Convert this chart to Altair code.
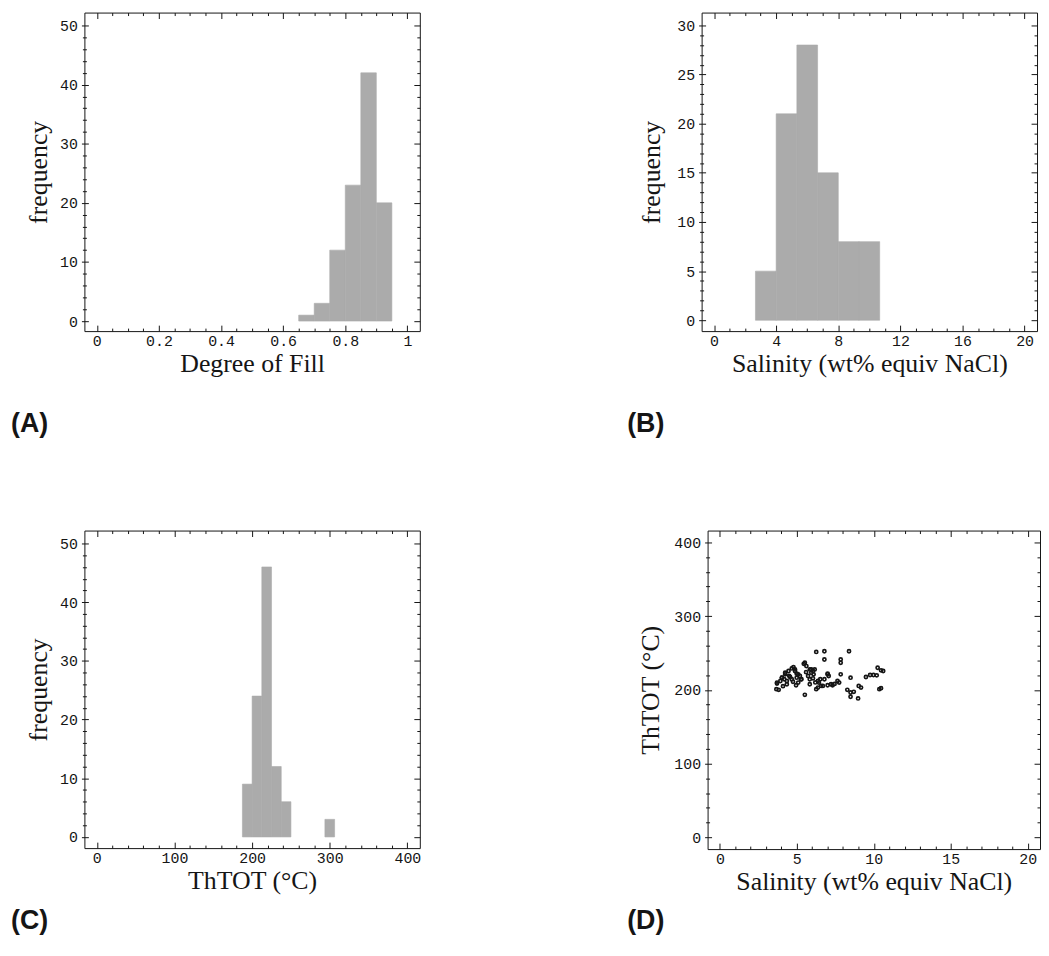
import altair as alt
import pandas as pd

# ---------------- data ----------------
# (A) Degree of fill histogram
fill_bin_start = [0.65, 0.70, 0.75, 0.80, 0.85, 0.90]
fill_bin_end = [0.70, 0.75, 0.80, 0.85, 0.90, 0.95]
fill_counts = [1, 3, 12, 23, 42, 20]

# (B) Salinity histogram
sal_bin_start = [2.667, 4.0, 5.333, 6.667, 8.0, 9.333]
sal_bin_end = [4.0, 5.333, 6.667, 8.0, 9.333, 10.667]
sal_counts = [5, 21, 28, 15, 8, 8]

# (C) ThTOT histogram
th_bin_start = [187.5, 200.0, 212.5, 225.0, 237.5, 293.75]
th_bin_end = [200.0, 212.5, 225.0, 237.5, 250.0, 306.25]
th_counts = [9, 24, 46, 12, 6, 3]

# (D) Salinity vs ThTOT scatter
scatter_salinity = [3.71, 3.67, 3.82, 4.03, 4.18, 4.35, 4.24, 4.46, 4.67, 4.78, 4.88, 4.99,
                    4.99, 4.95, 4.56, 4.67, 3.93, 5.20, 5.30, 5.09, 5.52, 5.45, 5.62, 5.84,
                    5.94, 6.05, 6.16, 5.73, 5.84, 6.05, 6.09, 5.84, 6.26, 6.79, 6.79, 6.52,
                    6.43, 6.26, 6.37, 6.58, 7.00, 7.07, 6.79, 7.00, 7.22, 7.32, 7.85, 7.85,
                    7.85, 7.64, 7.75, 8.28, 8.49, 8.39, 8.49, 8.49, 8.70, 8.98, 9.02, 9.17,
                    9.49, 9.76, 9.98, 10.19, 10.25, 10.47, 10.61, 10.36, 10.47,
                    4.24, 4.03, 3.71, 4.35, 4.88, 5.09, 5.26, 5.52, 5.94, 6.37, 7.00, 6.69,
                    4.50, 5.60, 6.20, 7.45, 4.10, 4.75]
scatter_thtot = [208.5, 200.9, 200.0, 216.5, 214.3, 207.6, 223.2, 225.5, 229.0, 230.8, 225.5, 221.9,
                 216.5, 206.2, 217.4, 214.3, 212.0, 218.7, 214.3, 209.8, 193.2, 235.3, 232.2, 227.7,
                 223.2, 225.5, 227.7, 218.7, 214.3, 215.6, 221.0, 207.6, 251.4, 252.3, 241.1, 214.3,
                 209.8, 200.9, 203.1, 205.3, 221.9, 218.7, 214.3, 206.2, 207.6, 206.2, 241.1, 236.6,
                 221.0, 212.0, 209.8, 200.0, 196.4, 252.3, 216.5, 190.6, 197.3, 188.3, 205.3, 203.1,
                 217.4, 220.1, 220.1, 219.6, 229.9, 226.4, 225.5, 200.9, 202.2,
                 221.0, 216.5, 209.8, 212.0, 227.7, 221.0, 214.3, 236.7, 227.7, 212.0, 221.0, 205.3,
                 219.0, 224.0, 210.0, 208.0, 205.0, 211.0]

# tick values
fill_major = [0, 0.2, 0.4, 0.6, 0.8, 1.0]
fill_minor = [round(0.05 * k, 2) for k in range(21) if k % 4 != 0]
freq50_major = [0, 10, 20, 30, 40, 50]
freq50_minor = [k for k in range(0, 51, 2) if k % 10 != 0]
freq30_major = [0, 5, 10, 15, 20, 25, 30]
freq30_minor = [k for k in range(0, 31) if k % 5 != 0]
sal4_major = [0, 4, 8, 12, 16, 20]
sal4_minor = [k for k in range(0, 21) if k % 4 != 0]
th_major = [0, 100, 200, 300, 400]
th_minor = [k for k in range(0, 401, 20) if k % 100 != 0]
sal5_major = [0, 5, 10, 15, 20]
sal5_minor = [k for k in range(0, 21) if k % 5 != 0]

panel_labels = ["(A)", "(B)", "(C)", "(D)"]

BAR = "#ababab"
INK = "#151515"


def panel(df, xf, yf, kind, xdom, ydom, xmaj, xmin, ymaj, ymin, xfmt, yfmt,
          xtitle, ytitle, ytitle_x, W, H, label, label_x, label_y):
    xs = alt.Scale(domain=xdom, nice=False, zero=False)
    ys = alt.Scale(domain=ydom, nice=False, zero=False)

    def X(axis):
        return alt.X(f"{xf}:Q", scale=xs, axis=axis)

    def Y(axis):
        return alt.Y(f"{yf}:Q", scale=ys, axis=axis)

    ax_b = alt.Axis(orient="bottom", values=xmaj, format=xfmt, offset=-6, tickSize=6,
                    domain=False, grid=False, labelPadding=3, labelFlush=False,
                    labelOverlap=False, title=xtitle, titleX=W / 2, titleY=47,
                    titleBaseline="alphabetic", titleAlign="center")
    ax_l = alt.Axis(orient="left", values=ymaj, format=yfmt, offset=-4, tickSize=7,
                    domain=False, grid=False, labelPadding=4, labelFlush=False,
                    labelOverlap=False, title=ytitle, titleX=ytitle_x - 4, titleY=H / 2,
                    titleAngle=270, titleBaseline="middle", titleAlign="center")
    ax_b_min = alt.Axis(orient="bottom", values=xmin, offset=-3, tickSize=3, labels=False,
                        domain=False, grid=False, title=None)
    ax_l_min = alt.Axis(orient="left", values=ymin, offset=-2, tickSize=4, labels=False,
                        domain=False, grid=False, title=None)
    ax_t = alt.Axis(orient="top", values=xmaj, offset=-6, tickSize=6, labels=False,
                    domain=False, grid=False, title=None)
    ax_r = alt.Axis(orient="right", values=ymaj, offset=-6, tickSize=6, labels=False,
                    domain=False, grid=False, title=None)
    ax_t_min = alt.Axis(orient="top", values=xmin, offset=-3, tickSize=3, labels=False,
                        domain=False, grid=False, title=None)
    ax_r_min = alt.Axis(orient="right", values=ymin, offset=-3, tickSize=3, labels=False,
                        domain=False, grid=False, title=None)

    base = alt.Chart(df)
    if kind == "hist":
        main = base.mark_rect(color=BAR, stroke=BAR, strokeWidth=0.6).encode(
            x=X(ax_b), x2=alt.X2("end:Q"), y=Y(ax_l), y2=alt.datum(0))
    else:
        main = base.mark_point(shape="circle", filled=False, size=10, strokeWidth=1.7,
                               color=INK, opacity=1).encode(x=X(ax_b), y=Y(ax_l))
    inv1 = base.mark_point(opacity=0).encode(x=X(ax_b_min), y=Y(ax_l_min))
    inv2 = base.mark_point(opacity=0).encode(x=X(ax_t), y=Y(ax_r))
    inv3 = base.mark_point(opacity=0).encode(x=X(ax_t_min), y=Y(ax_r_min))
    lab = alt.Chart(pd.DataFrame({"panel": [label]})).mark_text(
        align="left", baseline="alphabetic", font="Liberation Sans", fontSize=27,
        fontWeight="bold", color=INK, x=label_x, y=label_y).encode(text="panel:N")
    return alt.layer(main, inv1, inv2, inv3, lab).resolve_axis(
        x="independent", y="independent").properties(width=W, height=H)


dfA = pd.DataFrame({"start": fill_bin_start, "end": fill_bin_end, "count": fill_counts})
dfB = pd.DataFrame({"start": sal_bin_start, "end": sal_bin_end, "count": sal_counts})
dfC = pd.DataFrame({"start": th_bin_start, "end": th_bin_end, "count": th_counts})
dfD = pd.DataFrame({"sal": scatter_salinity, "th": scatter_thtot})

pA = panel(dfA, "start", "count", "hist", [-0.04, 1.04], [-1.7, 52.2],
           fill_major, fill_minor, freq50_major, freq50_minor, "~g", "d",
           "Degree of Fill", "frequency", -46, 338, 321, panel_labels[0], -74, 423)
pB = panel(dfB, "start", "count", "hist", [-0.8, 20.8], [-1.1, 31.3],
           sal4_major, sal4_minor, freq30_major, freq30_minor, "d", "d",
           "Salinity (wt% equiv NaCl)", "frequency", -50, 338, 321, panel_labels[1], -75, 423)
pC = panel(dfC, "start", "count", "hist", [-16, 416], [-1.9, 52.2],
           th_major, th_minor, freq50_major, freq50_minor, "d", "d",
           "ThTOT (°C)", "frequency", -46, 338, 320, panel_labels[2], -74, 402)
pD = panel(dfD, "sal", "th", "scatter", [-0.8, 20.8], [-16, 416],
           sal5_major, sal5_minor, th_major, th_minor, "d", "d",
           "Salinity (wt% equiv NaCl)", "ThTOT (°C)", -57, 335, 321, panel_labels[3], -81, 402)

row1 = alt.hconcat(pA, pB, spacing=284, bounds="flush")
row2 = alt.hconcat(pC, pD, spacing=290, bounds="flush")

chart = alt.vconcat(row1, row2, spacing=92).properties(
    padding={"left": 2, "top": 0, "right": 0, "bottom": 0},
    background="white",
).configure_view(
    stroke=INK, strokeWidth=1
).configure_axis(
    labelFont="Liberation Mono", labelFontSize=15, labelColor=INK,
    titleFont="Liberation Serif", titleFontSize=26, titleFontWeight="normal",
    titleColor=INK, tickColor=INK, tickWidth=1
)

chart.save("out.html", embed_options={"renderer": "svg", "actions": False})
